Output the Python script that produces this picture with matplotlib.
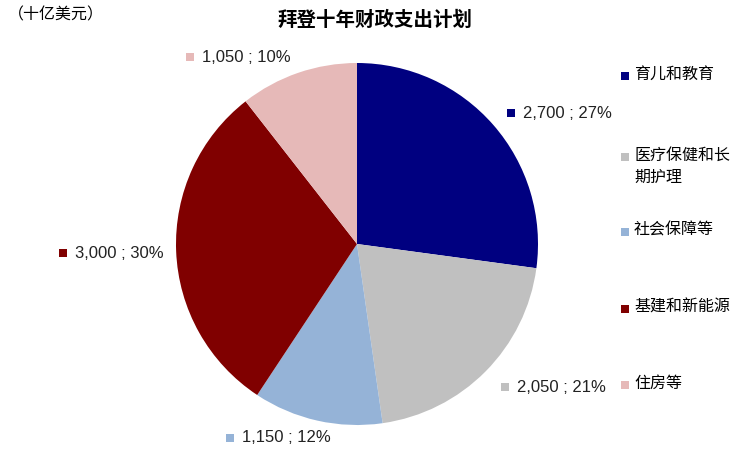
import matplotlib.pyplot as plt
from matplotlib.patches import Rectangle

plt.rcParams['font.family'] = ['Noto Sans CJK SC', 'DejaVu Sans']

categories = ["育儿和教育", "医疗保健和长\n期护理", "社会保障等", "基建和新能源", "住房等"]
values = [2700, 2050, 1150, 3000, 1050]
percents = [27, 21, 12, 30, 10]
colors = ["#000080", "#C0C0C0", "#95B3D7", "#800000", "#E6B9B8"]

W, H = 755, 463
fig = plt.figure(figsize=(W / 100, H / 100), dpi=100)

# pie centre ~ (357, 244) px, radius ~181 px
ax = fig.add_axes([(357 - 181) / W, (H - 244 - 181) / H, 362 / W, 362 / H])
ax.pie(values, colors=colors, startangle=90, counterclock=False,
       wedgeprops=dict(linewidth=0))
ax.set_aspect("equal")
ax.set_xlim(-1, 1)
ax.set_ylim(-1, 1)


def px(x, y):
    return x / W, 1 - y / H


def square(x, y, c, s=8):
    fig.add_artist(Rectangle(((x - s / 2) / W, 1 - (y + s / 2) / H), s / W, s / H,
                             transform=fig.transFigure, facecolor=c, edgecolor="none"))


# data labels
label_pos = [(511, 113), (505, 387), (230, 438), (63, 253), (190, 57)]
for (x, y), v, p, c in zip(label_pos, values, percents, colors):
    square(x, y, c)
    fig.text(*px(x + 12, y), f"{v:,} ; {p}%", fontsize=12, va="center", ha="left",
             family="Liberation Sans", color="#222222")

# legend
legend_y = [76, 157, 232, 309, 385]
for y, name, c in zip(legend_y, categories, colors):
    square(625, y, c)
    fig.text(*px(634, y - 10), name, fontsize=11.5, va="top", ha="left",
             linespacing=1.35, color="black")

fig.text(*px(375, 20), "拜登十年财政支出计划", fontsize=14, fontweight="bold",
         ha="center", va="center")
fig.text(*px(8, 15), "（十亿美元）", fontsize=11.5, ha="left", va="center")

fig.savefig("out.png", dpi=100)
